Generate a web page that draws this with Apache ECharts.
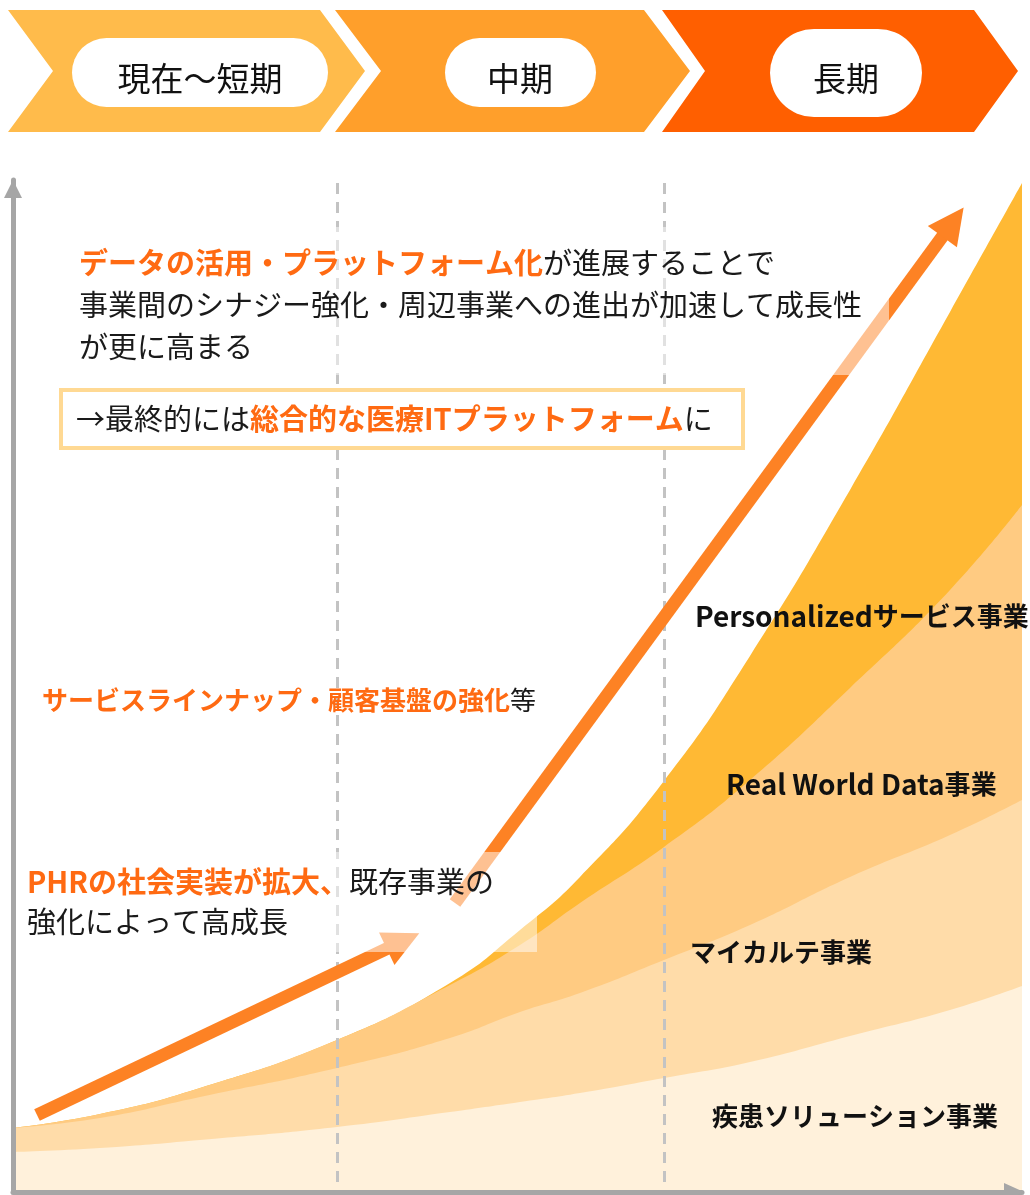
<!DOCTYPE html>
<html lang="ja">
<head>
<meta charset="UTF-8">
<title>成長イメージ</title>
<script src="https://cdn.jsdelivr.net/npm/echarts@6.0.0/dist/echarts.min.js"></script>
<style>
    html, body { margin: 0; padding: 0; background: #fff; }
    #chart { width: 1030px; height: 1195px; }
</style>
</head>
<body>
<div id="chart"></div>
<script>
// 横軸の位置（グリッド左端からの距離）
var xPos = [0, 87, 187, 324, 437, 507, 567, 651, 737, 837, 937, 1009];

// 各事業の厚み（下から積み上げる順）
var diseaseSolution = [40, 44, 52, 65, 80, 90, 99, 114, 130, 156, 182, 206];
var myKarte = [24, 30, 43, 59, 74, 90, 100, 118, 137, 159, 175, 186];
var realWorldData = [0, 4, 9, 28, 53, 67, 90, 113, 145, 189, 245, 295];
var personalized = [0, 0, 0, 0, 2, 15, 26, 66, 124, 198, 278, 322];

var businessNames = ["疾患ソリューション事業", "マイカルテ事業", "Real World Data事業", "Personalizedサービス事業"];
var phaseNames = ["現在〜短期", "中期", "長期"];
// 期間の区切り（破線）
var phaseBorders = [324, 651];

// 成長の矢印 [始点, 終点]
var arrowShort = [[24, 77], [390, 251]];
var arrowLong = [[442, 289], [940, 970]];

var FONT = '"Noto Sans CJK JP", "Noto Sans", sans-serif';
var ORANGE = "#FF6A12";
var BLACK = "#1a1a1a";

var layers = [diseaseSolution, myKarte, realWorldData, personalized];
var layerColors = ["#FFF1DB", "#FFDCA9", "#FFCB82", "#FFB934"];

// k番目の層までを足した上端
function cumulative(upTo) {
    return xPos.map(function (x, i) {
        var sum = 0;
        for (var k = 0; k <= upTo; k++) {
            sum += layers[k][i];
        }
        return [x, sum];
    });
}

function richText(x, y, text, size) {
    return {
        type: "text", x: x, y: y, z: 20,
        style: {
            text: text,
            verticalAlign: "middle",
            rich: {
                o: { fill: ORANGE, fontSize: size, fontWeight: "bold", fontFamily: FONT },
                k: { fill: BLACK, fontSize: size, fontFamily: FONT },
                b: { fill: "#111", fontSize: size, fontWeight: "bold", fontFamily: FONT },
                l: { fill: "#111", fontSize: size + 2, fontWeight: "bold", fontFamily: FONT }
            }
        }
    };
}

var series = [];
// 上の層から描き、下の層を重ねる
for (var k = layers.length - 1; k >= 0; k--) {
    series.push({
        name: businessNames[k],
        type: "line",
        smooth: true,
        symbol: "none",
        silent: true,
        data: cumulative(k),
        lineStyle: { width: 0, opacity: 0 },
        areaStyle: { color: layerColors[k], opacity: 1 }
    });
}
series[series.length - 1].markLine = {
    silent: true,
    symbol: "none",
    label: { show: false },
    lineStyle: { color: "#c3c3c3", width: 3, type: [11, 8] },
    data: phaseBorders.map(function (x) {
        return [{ coord: [x, 10] }, { coord: [x, 1010] }];
    })
};
series.push({
    type: "lines",
    coordinateSystem: "cartesian2d",
    z: 6,
    silent: true,
    symbol: ["none", "triangle"],
    symbolSize: 36,
    lineStyle: { color: "#FD8224", width: 13, opacity: 1, curveness: 0 },
    data: [{ coords: arrowShort }, { coords: arrowLong }]
});

// 上部の期間の矢羽根
var chevrons = [
    { pts: [[8, 10], [320, 10], [365, 71], [320, 132], [8, 132], [53, 71]], color: "#FFBB4B" },
    { pts: [[335, 10], [644, 10], [690, 71], [644, 132], [335, 132], [381, 71]], color: "#FF9F2B" },
    { pts: [[662, 10], [974, 10], [1018, 71], [974, 132], [662, 132], [705, 71]], color: "#FF5F00" }
];
var pills = [
    { x: 72, y: 38, w: 256, h: 69, cx: 200 },
    { x: 445, y: 38, w: 151, h: 69, cx: 520 },
    { x: 770, y: 29, w: 152, h: 88, cx: 846 }
];

var graphic = [];
chevrons.forEach(function (c, i) {
    graphic.push({ type: "polygon", z: 20, shape: { points: c.pts }, style: { fill: c.color } });
    var p = pills[i];
    graphic.push({
        type: "rect", z: 21,
        shape: { x: p.x, y: p.y, width: p.w, height: p.h, r: p.h / 2 },
        style: { fill: "#fff" }
    });
    graphic.push({
        type: "text", z: 22, x: p.cx, y: 78,
        style: { text: phaseNames[i], align: "center", verticalAlign: "middle", fontSize: 33, fontFamily: FONT, fill: "#111" }
    });
});

// テキストボックスの半透明の背景
graphic.push({ type: "rect", z: 10, shape: { x: 60, y: 227, width: 829, height: 148 }, style: { fill: "rgba(255,255,255,0.5)" } });
graphic.push({ type: "rect", z: 10, shape: { x: 20, y: 852, width: 517, height: 100 }, style: { fill: "rgba(255,255,255,0.5)" } });
graphic.push({ type: "rect", z: 11, shape: { x: 61, y: 390, width: 682, height: 58 }, style: { fill: "#fff", stroke: "#FFD993", lineWidth: 4 } });

graphic.push(richText(79, 263, "{o|データの活用・プラットフォーム化}{k|が進展することで}", 29));
graphic.push(richText(79, 305, "{k|事業間のシナジー強化・周辺事業への進出が加速して成長性}", 29));
graphic.push(richText(79, 347, "{k|が更に高まる}", 29));
graphic.push(richText(76, 419, "{k|→最終的には}{o|総合的な医療ITプラットフォーム}{k|に}", 29));
graphic.push(richText(42, 700, "{o|サービスラインナップ・顧客基盤の強化}{k|等}", 26));
graphic.push(richText(27, 882, "{o|PHRの社会実装が拡大、}{k|既存事業の}", 29));
graphic.push(richText(27, 922, "{k|強化によって高成長}", 29));

// 事業名ラベル（英字部分は少し大きく）
var labelPos = [[712, 1116], [690, 952], [726, 784], [695, 616]];
businessNames.forEach(function (name, i) {
    var m = name.match(/^[A-Za-z ]+/);
    var text = m ? "{l|" + m[0] + "}{b|" + name.slice(m[0].length) + "}" : "{b|" + name + "}";
    graphic.push(richText(labelPos[i][0], labelPos[i][1], text, 26));
});

var axisLineStyle = { color: "#a6a6a6", width: 5 };

var option = {
    animation: false,
    grid: { left: 13, right: 8, top: 180, bottom: 3, containLabel: false },
    xAxis: {
        type: "value", min: 0, max: 1009, z: 8,
        axisLine: { show: true, onZero: false, lineStyle: axisLineStyle, symbol: ["none", "triangle"], symbolSize: [18, 20], symbolOffset: [0, -8] },
        axisTick: { show: false },
        axisLabel: { show: false },
        splitLine: { show: false }
    },
    yAxis: {
        type: "value", min: 0, max: 1012, z: 8,
        axisLine: { show: true, onZero: false, lineStyle: axisLineStyle, symbol: ["none", "triangle"], symbolSize: [18, 18], symbolOffset: [0, -9] },
        axisTick: { show: false },
        axisLabel: { show: false },
        splitLine: { show: false }
    },
    series: series,
    graphic: graphic
};

var myChart = echarts.init(document.getElementById("chart"));
myChart.setOption(option);
</script>
</body>
</html>
